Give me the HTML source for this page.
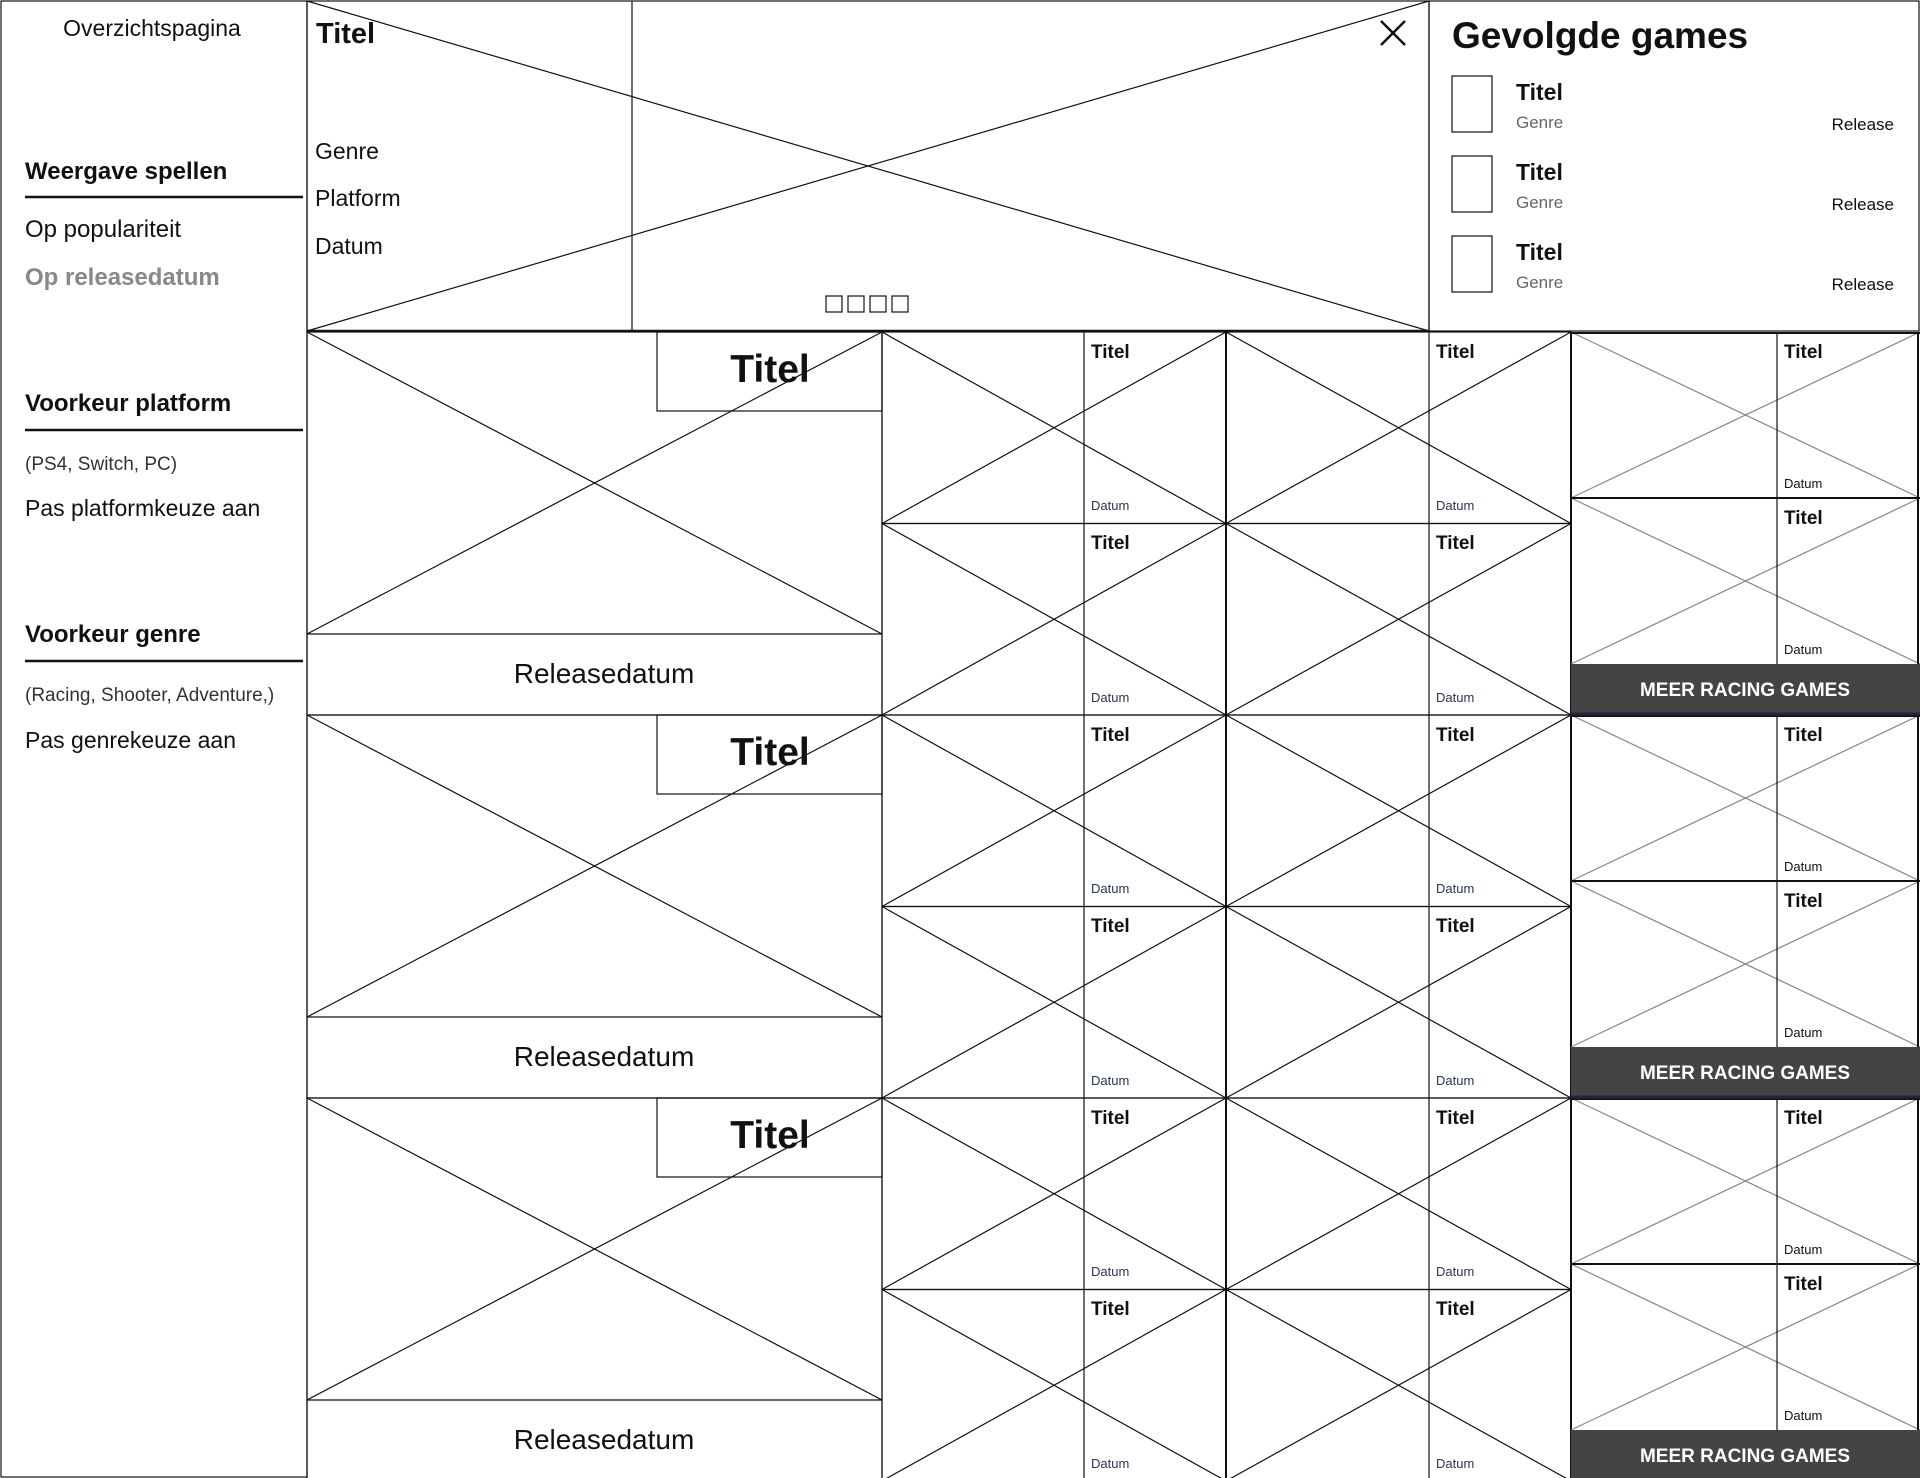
<!DOCTYPE html>
<html><head><meta charset="utf-8"><style>
html,body{margin:0;padding:0;background:#fff;}
svg{display:block;font-family:"Liberation Sans",sans-serif;}
.l{stroke:#111;stroke-width:1.2;fill:none}
.g{stroke:#888;stroke-width:1.2;fill:none}
.t{font-weight:bold;font-size:19px;fill:#111}
.d{font-size:13px;fill:#2a3356}
.dk{font-size:13px;fill:#111}
.b{font-weight:bold;font-size:19px;fill:#fff}
</style></head><body>
<svg width="1920" height="1478" viewBox="0 0 1920 1478">
<!-- sidebar -->
<rect x="1" y="1" width="306" height="1476" class="l" stroke-width="1.5"/>
<text x="152" y="36" text-anchor="middle" font-size="23" fill="#111">Overzichtspagina</text>
<text x="25" y="179" font-size="24" font-weight="bold" fill="#111">Weergave spellen</text>
<line x1="25" y1="197" x2="303" y2="197" stroke="#111" stroke-width="2.5"/>
<text x="25" y="237" font-size="24" fill="#111">Op populariteit</text>
<text x="25" y="285" font-size="24" font-weight="bold" fill="#888">Op releasedatum</text>
<text x="25" y="411" font-size="24" font-weight="bold" fill="#111">Voorkeur platform</text>
<line x1="25" y1="430" x2="303" y2="430" stroke="#111" stroke-width="2.5"/>
<text x="25" y="470" font-size="19" fill="#333">(PS4, Switch, PC)</text>
<text x="25" y="516" font-size="23" fill="#111">Pas platformkeuze aan</text>
<text x="25" y="642" font-size="24" font-weight="bold" fill="#111">Voorkeur genre</text>
<line x1="25" y1="661" x2="303" y2="661" stroke="#111" stroke-width="2.5"/>
<text x="25" y="701" font-size="19" fill="#333">(Racing,  Shooter,  Adventure,)</text>
<text x="25" y="748" font-size="23" fill="#111">Pas genrekeuze aan</text>

<!-- hero -->
<rect x="307" y="1" width="1122" height="330" class="l"/>
<line x1="307" y1="1" x2="1429" y2="331" class="l"/>
<line x1="307" y1="331" x2="1429" y2="1" class="l"/>
<line x1="632" y1="1" x2="632" y2="331" class="l"/>
<line x1="307" y1="331" x2="1429" y2="331" stroke="#111" stroke-width="2.5"/>
<text x="316" y="43" font-size="29" font-weight="bold" fill="#111">Titel</text>
<text x="315" y="159" font-size="23" fill="#111">Genre</text>
<text x="315" y="206" font-size="23" fill="#111">Platform</text>
<text x="315" y="254" font-size="23" fill="#111">Datum</text>
<line x1="1381" y1="21" x2="1405" y2="45" stroke="#111" stroke-width="2.5"/>
<line x1="1405" y1="21" x2="1381" y2="45" stroke="#111" stroke-width="2.5"/>
<rect x="826" y="296" width="16" height="16" class="l"/><rect x="848" y="296" width="16" height="16" class="l"/><rect x="870" y="296" width="16" height="16" class="l"/><rect x="892" y="296" width="16" height="16" class="l"/>

<!-- gevolgde games -->
<rect x="1429" y="1" width="490" height="330" class="l" stroke-width="1.5"/>
<text x="1452" y="48" font-size="37" font-weight="bold" fill="#111">Gevolgde games</text>
<rect x="1452" y="76" width="40" height="56" class="l"/>
<text x="1516" y="100" font-size="23" font-weight="bold" fill="#111">Titel</text>
<text x="1516" y="128" font-size="17" fill="#666">Genre</text>
<text x="1894" y="130" font-size="17" fill="#111" text-anchor="end">Release</text>
<rect x="1452" y="156" width="40" height="56" class="l"/>
<text x="1516" y="180" font-size="23" font-weight="bold" fill="#111">Titel</text>
<text x="1516" y="208" font-size="17" fill="#666">Genre</text>
<text x="1894" y="210" font-size="17" fill="#111" text-anchor="end">Release</text>
<rect x="1452" y="236" width="40" height="56" class="l"/>
<text x="1516" y="260" font-size="23" font-weight="bold" fill="#111">Titel</text>
<text x="1516" y="288" font-size="17" fill="#666">Genre</text>
<text x="1894" y="290" font-size="17" fill="#111" text-anchor="end">Release</text>

<!-- big cards -->
<g>
<rect x="307" y="332" width="575" height="383" class="l"/>
<line x1="307" y1="332" x2="882" y2="634" class="l"/><line x1="307" y1="634" x2="882" y2="332" class="l"/>
<line x1="307" y1="634" x2="882" y2="634" class="l"/>
<rect x="657" y="332" width="225" height="79" class="l"/>
<text x="770" y="382" font-size="39" font-weight="bold" fill="#111" text-anchor="middle">Titel</text>
<text x="604" y="683" font-size="28" fill="#111" text-anchor="middle">Releasedatum</text>
</g>
<g>
<rect x="307" y="715" width="575" height="383" class="l"/>
<line x1="307" y1="715" x2="882" y2="1017" class="l"/><line x1="307" y1="1017" x2="882" y2="715" class="l"/>
<line x1="307" y1="1017" x2="882" y2="1017" class="l"/>
<rect x="657" y="715" width="225" height="79" class="l"/>
<text x="770" y="765" font-size="39" font-weight="bold" fill="#111" text-anchor="middle">Titel</text>
<text x="604" y="1066" font-size="28" fill="#111" text-anchor="middle">Releasedatum</text>
</g>
<g>
<rect x="307" y="1098" width="575" height="383" class="l"/>
<line x1="307" y1="1098" x2="882" y2="1400" class="l"/><line x1="307" y1="1400" x2="882" y2="1098" class="l"/>
<line x1="307" y1="1400" x2="882" y2="1400" class="l"/>
<rect x="657" y="1098" width="225" height="79" class="l"/>
<text x="770" y="1148" font-size="39" font-weight="bold" fill="#111" text-anchor="middle">Titel</text>
<text x="604" y="1449" font-size="28" fill="#111" text-anchor="middle">Releasedatum</text>
</g>

<!-- small cards col A -->
<g class="l">
<rect x="882" y="332" width="344" height="191.5"/><line x1="882" y1="332" x2="1226" y2="523.5"/><line x1="882" y1="523.5" x2="1226" y2="332"/><line x1="1084" y1="332" x2="1084" y2="523.5"/>
<rect x="882" y="523.5" width="344" height="191.5"/><line x1="882" y1="523.5" x2="1226" y2="715"/><line x1="882" y1="715" x2="1226" y2="523.5"/><line x1="1084" y1="523.5" x2="1084" y2="715"/>
<rect x="882" y="715" width="344" height="191.5"/><line x1="882" y1="715" x2="1226" y2="906.5"/><line x1="882" y1="906.5" x2="1226" y2="715"/><line x1="1084" y1="715" x2="1084" y2="906.5"/>
<rect x="882" y="906.5" width="344" height="191.5"/><line x1="882" y1="906.5" x2="1226" y2="1098"/><line x1="882" y1="1098" x2="1226" y2="906.5"/><line x1="1084" y1="906.5" x2="1084" y2="1098"/>
<rect x="882" y="1098" width="344" height="191.5"/><line x1="882" y1="1098" x2="1226" y2="1289.5"/><line x1="882" y1="1289.5" x2="1226" y2="1098"/><line x1="1084" y1="1098" x2="1084" y2="1289.5"/>
<rect x="882" y="1289.5" width="344" height="191.5"/><line x1="882" y1="1289.5" x2="1226" y2="1481"/><line x1="882" y1="1481" x2="1226" y2="1289.5"/><line x1="1084" y1="1289.5" x2="1084" y2="1481"/>
</g>
<text class="t" x="1091" y="358">Titel</text><text class="d" x="1091" y="510">Datum</text>
<text class="t" x="1091" y="549">Titel</text><text class="d" x="1091" y="702">Datum</text>
<text class="t" x="1091" y="741">Titel</text><text class="d" x="1091" y="893">Datum</text>
<text class="t" x="1091" y="932">Titel</text><text class="d" x="1091" y="1085">Datum</text>
<text class="t" x="1091" y="1124">Titel</text><text class="d" x="1091" y="1276">Datum</text>
<text class="t" x="1091" y="1315">Titel</text><text class="d" x="1091" y="1468">Datum</text>

<!-- small cards col B -->
<g class="l">
<rect x="1226" y="332" width="345" height="191.5"/><line x1="1226" y1="332" x2="1571" y2="523.5"/><line x1="1226" y1="523.5" x2="1571" y2="332"/><line x1="1429" y1="332" x2="1429" y2="523.5"/>
<rect x="1226" y="523.5" width="345" height="191.5"/><line x1="1226" y1="523.5" x2="1571" y2="715"/><line x1="1226" y1="715" x2="1571" y2="523.5"/><line x1="1429" y1="523.5" x2="1429" y2="715"/>
<rect x="1226" y="715" width="345" height="191.5"/><line x1="1226" y1="715" x2="1571" y2="906.5"/><line x1="1226" y1="906.5" x2="1571" y2="715"/><line x1="1429" y1="715" x2="1429" y2="906.5"/>
<rect x="1226" y="906.5" width="345" height="191.5"/><line x1="1226" y1="906.5" x2="1571" y2="1098"/><line x1="1226" y1="1098" x2="1571" y2="906.5"/><line x1="1429" y1="906.5" x2="1429" y2="1098"/>
<rect x="1226" y="1098" width="345" height="191.5"/><line x1="1226" y1="1098" x2="1571" y2="1289.5"/><line x1="1226" y1="1289.5" x2="1571" y2="1098"/><line x1="1429" y1="1098" x2="1429" y2="1289.5"/>
<rect x="1226" y="1289.5" width="345" height="191.5"/><line x1="1226" y1="1289.5" x2="1571" y2="1481"/><line x1="1226" y1="1481" x2="1571" y2="1289.5"/><line x1="1429" y1="1289.5" x2="1429" y2="1481"/>
</g>
<line x1="1226" y1="332" x2="1226" y2="1478" stroke="#111" stroke-width="2"/>
<line x1="1571" y1="332" x2="1571" y2="1478" stroke="#111" stroke-width="2"/>
<text class="t" x="1436" y="358">Titel</text><text class="d" x="1436" y="510">Datum</text>
<text class="t" x="1436" y="549">Titel</text><text class="d" x="1436" y="702">Datum</text>
<text class="t" x="1436" y="741">Titel</text><text class="d" x="1436" y="893">Datum</text>
<text class="t" x="1436" y="932">Titel</text><text class="d" x="1436" y="1085">Datum</text>
<text class="t" x="1436" y="1124">Titel</text><text class="d" x="1436" y="1276">Datum</text>
<text class="t" x="1436" y="1315">Titel</text><text class="d" x="1436" y="1468">Datum</text>

<!-- right column -->
<g class="g">
<line x1="1571" y1="332" x2="1920" y2="498"/><line x1="1571" y1="498" x2="1920" y2="332"/>
<line x1="1571" y1="498" x2="1920" y2="664"/><line x1="1571" y1="664" x2="1920" y2="498"/>
<line x1="1571" y1="715" x2="1920" y2="881"/><line x1="1571" y1="881" x2="1920" y2="715"/>
<line x1="1571" y1="881" x2="1920" y2="1047"/><line x1="1571" y1="1047" x2="1920" y2="881"/>
<line x1="1571" y1="1098" x2="1920" y2="1264"/><line x1="1571" y1="1264" x2="1920" y2="1098"/>
<line x1="1571" y1="1264" x2="1920" y2="1430"/><line x1="1571" y1="1430" x2="1920" y2="1264"/>
</g>
<g stroke="#111" stroke-width="2">
<line x1="1571" y1="333" x2="1920" y2="333"/><line x1="1571" y1="498" x2="1920" y2="498"/>
<line x1="1571" y1="716" x2="1920" y2="716"/><line x1="1571" y1="881" x2="1920" y2="881"/>
<line x1="1571" y1="1099" x2="1920" y2="1099"/><line x1="1571" y1="1264" x2="1920" y2="1264"/>
<line x1="1918" y1="332" x2="1918" y2="1478"/>
</g>
<g class="l">
<line x1="1777" y1="332" x2="1777" y2="664"/><line x1="1777" y1="715" x2="1777" y2="1047"/><line x1="1777" y1="1098" x2="1777" y2="1430"/>
</g>
<text class="t" x="1784" y="358">Titel</text><text class="dk" x="1784" y="488">Datum</text>
<text class="t" x="1784" y="524">Titel</text><text class="dk" x="1784" y="654">Datum</text>
<text class="t" x="1784" y="741">Titel</text><text class="dk" x="1784" y="871">Datum</text>
<text class="t" x="1784" y="907">Titel</text><text class="dk" x="1784" y="1037">Datum</text>
<text class="t" x="1784" y="1124">Titel</text><text class="dk" x="1784" y="1254">Datum</text>
<text class="t" x="1784" y="1290">Titel</text><text class="dk" x="1784" y="1420">Datum</text>
<rect x="1571" y="664" width="349" height="51" fill="#444"/>
<rect x="1571" y="1047" width="349" height="51" fill="#444"/>
<rect x="1571" y="1430" width="349" height="51" fill="#444"/>
<line x1="1571" y1="714" x2="1920" y2="714" stroke="#1e2640" stroke-width="3"/>
<line x1="1571" y1="1097" x2="1920" y2="1097" stroke="#1e2640" stroke-width="3"/>
<text class="b" x="1745" y="696" text-anchor="middle">MEER RACING GAMES</text>
<text class="b" x="1745" y="1079" text-anchor="middle">MEER RACING GAMES</text>
<text class="b" x="1745" y="1462" text-anchor="middle">MEER RACING GAMES</text>
</svg>
</body></html>
